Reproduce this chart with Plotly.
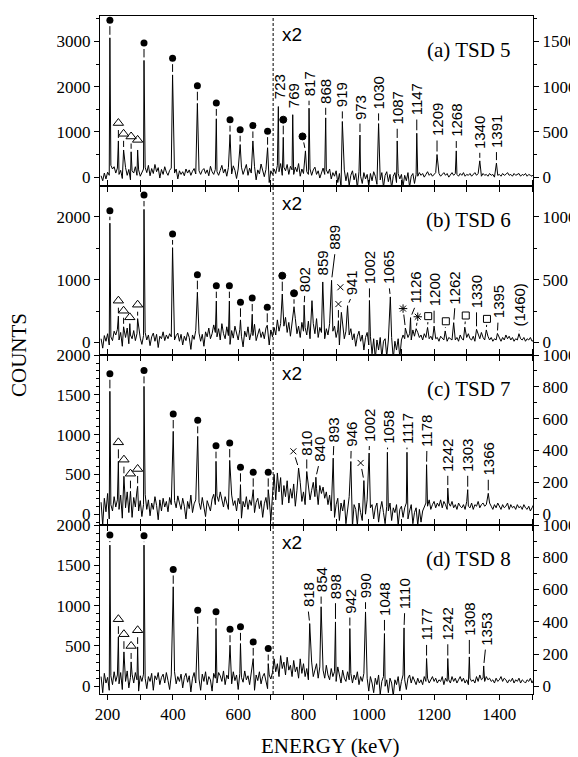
import plotly.graph_objects as go

# ---------------- common grid / axis values ----------------
STEP = 5            # keV per background channel
LO_START = 180      # first channel of the x1 part (left axis units)
HI_START = 710      # first channel of the x2 part (right axis units)
SPLIT_E = 707       # dashed line, start of x2 region
X_RANGE = [176.7, 1503]

panel_names = ["(a) TSD 5", "(b) TSD 6", "(c) TSD 7", "(d) TSD 8"]
left_ranges = [[-196, 3562], [-199, 2492], [-136, 2000.5], [-96, 2000.5]]
left_dtick = [1000, 1000, 500, 500]
left_minor = [500, 500, 100, 100]
right_dtick = [500, 500, 200, 200]
right_minor = [250, 250, 100, 100]

# ---------------- panel (a) TSD 5 ----------------
a_bg_lo = [30, -80, 90, -40, 110, 40, 260, 180, 230, 90,
           200, 60, 150, -30, 120, 210, 40, 170, -60, 140,
           90, 230, 40, 160, 20, 110, 180, 220, 100, 260,
           30, 190, 80, 280, 120, 210, -20, 170, 60, 230,
           110, 40, 150, 200, 150, 90, 180, -40, 140, 60,
           120, 30, 180, 90, 160, 40, 130, 190, 70, 250,
           140, 60, 150, 190, 80, 160, 30, 240, 120, 60,
           170, 120, 40, 150, 260, 90, 180, 20, 210, 130,
           70, 250, 150, -30, 180, 110, 220, 60, 170, 280,
           40, 200, 90, 130, 230, -60, 160, 70, 290, 110,
           10, 170, 80, -120, 140, 60]
a_bg_hi = [90, 40, 130, 60, 150, 20, 110, 70, 140, 30,
           120, 80, 30, 110, 60, 150, 10, 90, 40, 120,
           60, 30, 90, 20, 80, 110, 30, 70, -10, 60,
           100, 30, 80, 40, 90, -20, 50, 10, 70, -60,
           40, -110, 30, 80, -40, 50, -90, 20, 70, -30,
           40, -120, 60, 10, -70, 50, -20, 30, -100, 40,
           -40, 60, 10, -80, 40, -30, 50, -110, 20, 60,
           -50, 30, -120, 10, 50, -60, 40, -20, 30, -100,
           20, -40, 50, -110, 10, 40, -70, 30, 10, 50,
           20, 40, 0, 30, 60, 20, 40, 10, 30, 50,
           20, 40, 10, 30, 50, 20, 40, 0, 30, 50,
           20, 40, 30, 10, 40, 20, 50, 10, 30, 20,
           40, 10, 30, 50, 20, 40, 30, 10, 40, 20,
           30, 10, 40, 20, 30, 0, 40, 20, 30, 10,
           40, 20, 30, 50, 20, 30, 10, 40, 20, 30,
           40, 10, 30, 20, 40, 10, 30, 20, 10, 30,
           20]
a_dot_E = [207, 311.5, 399, 475, 533, 575, 606, 645, 690]
a_dot_pk = [3080, 2580, 2260, 1630, 1290, 940, 720, 800, 650]
a_dot_y = [3470, 2965, 2630, 2020, 1640, 1270, 1047, 1143, 1017]
a_tri_E = [233, 249, 272, 292]
a_tri_pk = [800, 600, 560, 600]
a_tri_y = [1196, 958, 898, 824]
a_lab = ["723", "769", "817", "868", "919", "973", "1030", "1087", "1147", "1209", "1268", "1340", "1391"]
a_lab_pkE = [723, 767, 817, 868, 919, 973, 1030, 1087, 1147, 1209, 1268, 1340, 1391]
a_lab_pk = [780, 690, 762, 655, 615, 465, 592, 400, 485, 250, 290, 180, 155]
a_lab_x = [725, 769, 817, 868, 919, 973, 1030, 1087, 1147, 1209, 1268, 1340, 1391]
a_lab_y = [845, 750, 878, 800, 760, 625, 738, 568, 670, 438, 432, 302, 310]
a_mk_sym = ["circle", "circle"]
a_mk_x = [738, 797]
a_mk_y = [635, 450]
a_mk_pkE = [738, 806]
a_mk_pk = [440, 290]
a_ex_E = []
a_ex_h = []

# ---------------- panel (b) TSD 6 ----------------
b_bg_lo = [60, -90, 110, 20, 140, -40, 90, 30, 180, 120,
           210, 40, 160, -60, 150, 80, 230, -20, 120, 60,
           190, 30, 140, 250, 70, -30, 110, 160, 40, 120,
           -50, 90, 150, 20, 130, -80, 100, 60, 170, 30,
           120, 60, 140, 90, 180, 40, 110, 150, 20, 130,
           -40, 100, 30, 160, 80, -110, 120, 50, 190, 90,
           150, 20, 130, -60, 170, 90, 230, 60, 140, 280,
           160, 90, 220, 40, 300, 140, 60, 250, 110, -30,
           190, 70, 260, 130, 40, 210, 100, -70, 180, 90,
           250, 40, 160, 110, 290, 30, 150, 220, 80, 170,
           60, 230, 120, -40, 200, 90]
b_bg_hi = [120, 60, 180, 90, 150, 40, 130, 200, 80, 160,
           50, 140, 100, 190, 70, 130, 40, 160, 90, 120,
           60, 170, 30, 110, 150, 70, 190, 40, 120, 80,
           140, 30, 110, 60, 150, 20, 90, 130, 40, 100,
           -20, 80, 130, 30, 90, -40, 60, 110, 20, 70,
           -30, 50, 90, 10, 60, -60, 40, 80, -20, 50,
           -90, 30, -130, 20, -60, 40, -120, 10, 30, -110,
           20, -80, 40, -130, 10, -60, 30, -120, 20, 60,
           30, 90, 40, 70, 20, 100, 50, 30, 80, 40,
           60, 20, 70, 40, 90, 30, 50, 20, 60, 30,
           40, 10, 50, 30, 20, 60, 10, 40, 30, 20,
           50, 20, 40, 10, 60, 30, 20, 50, 40, 70,
           30, 20, 50, 10, 40, 60, 30, 80, 40, 20,
           30, 50, 20, 40, 10, 30, 20, 40, 30, 10,
           40, 20, 60, 30, 50, 20, 40, 10, 30, 20,
           50, 30, 20, 40, 10, 30, 20, 40, 10, 20,
           30]
b_dot_E = [207, 311.5, 399, 475, 533, 573, 607, 643, 689]
b_dot_pk = [1900, 2120, 1510, 800, 660, 660, 360, 450, 275]
b_dot_y = [2099, 2349, 1728, 1080, 905, 905, 640, 709, 560]
b_tri_E = [233, 249, 268, 292]
b_tri_pk = [420, 250, 300, 380]
b_tri_y = [666, 506, 401, 602]
b_lab = ["802", "859", "889", "941", "1002", "1065", "1126", "1200", "1262", "1330", "1395", "(1460)"]
b_lab_pkE = [802, 859, 886, 935, 1002, 1066, 1128, 1200, 1260, 1330, 1394, 1460]
b_lab_pk = [297, 482, 495, 293, 335, 363, 198, 130, 158, 105, 72, 70]
b_lab_x = [804, 859, 897, 948, 1002, 1062, 1144, 1200, 1264, 1330, 1396, 1462]
b_lab_y = [395, 528, 727, 370, 455, 455, 300, 277, 297, 264, 182, 120]
b_mk_sym = ["circle", "circle", "x-thin-open", "x-thin-open", "asterisk-open", "asterisk-open",
            "square-open", "square-open", "square-open", "square-open"]
b_mk_x = [735, 771, 907, 913, 1105, 1150, 1182, 1236, 1297, 1362]
b_mk_y = [532, 392, 306, 440, 270, 205, 210, 169, 215, 188]
b_mk_pkE = [735, 771, 907, 916, 1112, 1145, 1180, 1234, 1294, 1360]
b_mk_pk = [386, 285, 174, None, 115, 110, 120, 92, 122, 100]
b_ex_E = [826, 916]
b_ex_h = [333, 240]

# ---------------- panel (c) TSD 7 ----------------
c_bg_lo = [150, -140, 200, 30, 260, -60, 120, 40, 220, 90,
           180, 60, 240, -50, 190, 80, 280, 20, 150, -40,
           210, 90, 300, 40, 170, -30, 120, 250, 60, 180,
           -20, 140, 60, 220, 110, -70, 180, 40, 200, 90,
           160, 30, 210, 120, -40, 170, 80, 230, 140, 60,
           200, 100, -60, 160, 70, 240, 20, 130, 180, -20,
           150, 60, 210, 90, -30, 170, 110, 40, 190, 250,
           120, 230, 160, 280, 180, 90, 220, 140, 60, 190,
           240, 110, 170, 40, 200, 130, -50, 160, 90, 220,
           60, 180, 110, 250, 20, 150, 200, 70, 170, -40,
           130, 210, 60, 190, -80, 230]
c_bg_hi = [250, 90, 200, 140, 230, 60, 180, 110, 210, 70,
           160, 100, 190, 50, 150, 120, 200, 80, 140, 60,
           120, 170, 90, 150, 200, 110, 160, 60, 180, 130,
           170, 100, 140, 60, 120, 20, 80, -20, 60, 100,
           -40, 70, 20, 90, -60, 50, 110, 10, -80, 60,
           30, -70, 70, 10, -40, 50, 0, 90, -80, 40,
           60, -30, 40, 70, -50, 30, 80, 10, -60, 50,
           20, 70, -40, 40, 10, 60, -70, 30, 50, -20,
           40, 70, -30, 20, 60, -60, 10, 40, -70, 30,
           -50, 20, 40, 70, 50, 90, 30, 60, 80, 40,
           70, 50, 90, 40, 80, 60, 30, 70, 50, 80,
           40, 60, 30, 70, 50, 40, 60, 30, 80, 50,
           40, 70, 30, 60, 50, 80, 40, 60, 70, 50,
           60, 40, 70, 50, 30, 60, 40, 70, 50, 30,
           60, 40, 50, 70, 30, 60, 40, 50, 30, 60,
           40, 50, 30, 60, 40, 30, 50, 20, 40, 60,
           30]
c_dot_E = [207, 311.5, 401, 476, 532, 574, 607, 646, 692]
c_dot_pk = [1544, 1606, 1041, 978, 664, 676, 371, 308, 308]
c_dot_y = [1765, 1807, 1259, 1179, 861, 894, 589, 526, 526]
c_tri_E = [233, 250, 270, 292]
c_tri_pk = [664, 476, 287, 350]
c_tri_y = [903, 685, 509, 568]
c_lab = ["810", "840", "893", "946", "1002", "1058", "1117", "1178", "1242", "1303", "1366"]
c_lab_pkE = [810, 838, 891, 945, 1001, 1057, 1117, 1177, 1242, 1303, 1366]
c_lab_pk = [268, 232, 352, 331, 384, 389, 389, 311, 164, 154, 131]
c_lab_x = [810, 848, 893, 946, 1002, 1058, 1117, 1178, 1242, 1303, 1366]
c_lab_y = [363, 321, 447, 416, 447, 437, 437, 416, 260, 260, 235]
c_mk_sym = ["x-thin-open", "x-thin-open"]
c_mk_x = [769, 975]
c_mk_y = [395, 322]
c_mk_pkE = [785, 985]
c_mk_pk = [290, 211]
c_ex_E = [720]
c_ex_h = [259]

# ---------------- panel (d) TSD 8 ----------------
d_bg_lo = [120, -80, 160, 40, 110, -50, 130, 20, 180, 60,
           140, 30, 170, -40, 120, 60, 190, -20, 110, 150,
           40, 170, 80, -60, 130, 60, 150, 100, -30, 120,
           60, 160, -50, 130, 80, 170, 20, 110, 150, 40,
           170, 70, -40, 140, 100, 180, 30, 120, 60, 150,
           -20, 110, 160, 50, 130, -70, 100, 170, 40, 140,
           90, -50, 150, 60, 180, 20, 120, 80, -60, 160,
           100, 40, 170, 130, 60, 190, 20, 140, 90, 150,
           30, 180, 70, 140, -40, 160, 110, 50, 190, 80,
           130, 20, 160, 90, -50, 140, 70, 180, 30, 120,
           160, 60, -30, 140, 90, 170]
d_bg_hi = [170, 90, 140, 60, 190, 110, 150, 70, 180, 100,
           130, 60, 160, 90, 120, 50, 170, 80, 140, 60,
           110, 40, 90, 150, 60, 100, 140, 50, 120, 80,
           100, 50, 130, 70, 40, 110, 60, 90, 30, 120,
           70, 20, 100, 50, 30, 90, 40, 80, 20, 70,
           40, 90, 10, 60, 30, 80, 20, 50, -30, 60,
           20, -40, 50, 10, 70, -50, 30, 60, 0, 40,
           -40, 50, 20, -60, 40, 10, 60, -30, 30, 70,
           40, -20, 50, 70, 20, 60, 30, 10, 50, 20,
           40, 10, 60, 30, 50, 20, 40, 60, 30, 50,
           20, 40, 30, 60, 10, 50, 30, 40, 20, 60,
           30, 50, 20, 40, 60, 30, 50, 20, 40, 10,
           50, 30, 40, 20, 60, 30, 70, 40, 50, 30,
           60, 40, 50, 30, 40, 20, 50, 30, 40, 60,
           30, 50, 40, 20, 40, 30, 50, 20, 40, 30,
           50, 20, 40, 30, 20, 40, 30, 50, 20, 40,
           30]
d_dot_E = [207, 311.5, 401, 476, 532, 575, 607, 646, 692]
d_dot_pk = [1751, 1751, 1234, 737, 716, 509, 530, 343, 281]
d_dot_y = [1876, 1867, 1449, 944, 923, 708, 737, 550, 467]
d_tri_E = [233, 250, 272, 292]
d_tri_pk = [612, 426, 302, 488]
d_tri_y = [832, 646, 500, 695]
d_lab = ["818", "854", "898", "942", "990", "1048", "1110", "1177", "1242", "1308", "1353"]
d_lab_pkE = [819, 854, 898, 942, 990, 1048, 1108, 1177, 1242, 1308, 1352]
d_lab_pk = [389, 493, 399, 358, 461, 327, 362, 172, 172, 182, 126]
d_lab_x = [814, 854, 898, 942, 990, 1048, 1110, 1177, 1242, 1308, 1358]
d_lab_y = [482, 575, 534, 445, 540, 430, 472, 275, 279, 306, 246]
d_mk_sym = []
d_mk_x = []
d_mk_y = []
d_mk_pkE = []
d_mk_pk = []
d_ex_E = []
d_ex_h = []

panels = [
    dict(bg_lo=a_bg_lo, bg_hi=a_bg_hi, dot_E=a_dot_E, dot_pk=a_dot_pk, dot_y=a_dot_y,
         tri_E=a_tri_E, tri_pk=a_tri_pk, tri_y=a_tri_y, lab=a_lab, lab_pkE=a_lab_pkE,
         lab_pk=a_lab_pk, lab_x=a_lab_x, lab_y=a_lab_y, mk_sym=a_mk_sym, mk_x=a_mk_x,
         mk_y=a_mk_y, mk_pkE=a_mk_pkE, mk_pk=a_mk_pk, ex_E=a_ex_E, ex_h=a_ex_h),
    dict(bg_lo=b_bg_lo, bg_hi=b_bg_hi, dot_E=b_dot_E, dot_pk=b_dot_pk, dot_y=b_dot_y,
         tri_E=b_tri_E, tri_pk=b_tri_pk, tri_y=b_tri_y, lab=b_lab, lab_pkE=b_lab_pkE,
         lab_pk=b_lab_pk, lab_x=b_lab_x, lab_y=b_lab_y, mk_sym=b_mk_sym, mk_x=b_mk_x,
         mk_y=b_mk_y, mk_pkE=b_mk_pkE, mk_pk=b_mk_pk, ex_E=b_ex_E, ex_h=b_ex_h),
    dict(bg_lo=c_bg_lo, bg_hi=c_bg_hi, dot_E=c_dot_E, dot_pk=c_dot_pk, dot_y=c_dot_y,
         tri_E=c_tri_E, tri_pk=c_tri_pk, tri_y=c_tri_y, lab=c_lab, lab_pkE=c_lab_pkE,
         lab_pk=c_lab_pk, lab_x=c_lab_x, lab_y=c_lab_y, mk_sym=c_mk_sym, mk_x=c_mk_x,
         mk_y=c_mk_y, mk_pkE=c_mk_pkE, mk_pk=c_mk_pk, ex_E=c_ex_E, ex_h=c_ex_h),
    dict(bg_lo=d_bg_lo, bg_hi=d_bg_hi, dot_E=d_dot_E, dot_pk=d_dot_pk, dot_y=d_dot_y,
         tri_E=d_tri_E, tri_pk=d_tri_pk, tri_y=d_tri_y, lab=d_lab, lab_pkE=d_lab_pkE,
         lab_pk=d_lab_pk, lab_x=d_lab_x, lab_y=d_lab_y, mk_sym=d_mk_sym, mk_x=d_mk_x,
         mk_y=d_mk_y, mk_pkE=d_mk_pkE, mk_pk=d_mk_pk, ex_E=d_ex_E, ex_h=d_ex_h),
]

# ---------------- layout geometry ----------------
# The page body has an 8 px margin: the figure's margins are shifted so that
# the frame lands on the reference page pixels; the figure itself is allowed
# to run past the window edge (nothing is drawn there).
BODY = 8
W, H = 578, 757
FRAME_L, FRAME_R = 100, 533           # page pixels
BOUNDS = [16, 186, 355, 525, 694]     # page pixels of the panel edges
ML = FRAME_L - BODY
MR = W - (FRAME_R - BODY)
MT = BOUNDS[0] - BODY
MB = H - (BOUNDS[4] - BODY)
PW = W - ML - MR
PH = H - MT - MB
SANS = "Liberation Sans, Arial, Helvetica, sans-serif"
SERIF = "Liberation Serif, Times New Roman, Times, serif"
TICKFONT = dict(family=SERIF, size=17, color="black")
NUMFONT = dict(family=SANS, size=15, color="black")


def merge(start, bg, peaks):
    pts = [(start + STEP * i, v) for i, v in enumerate(bg)]
    pk_x = [p[0] for p in peaks]
    pts = [p for p in pts if all(abs(p[0] - e) > 1.0 for e in pk_x)]
    pts += peaks
    pts.sort(key=lambda p: p[0])
    return [p[0] for p in pts], [p[1] for p in pts]


def leader(xs, ys, x0, y0, x1, y1, g0, g1):
    dy = y1 - y0
    if dy <= g0 + g1:
        return
    t0 = g0 / dy
    t1 = 1 - g1 / dy
    xs += [x0 + t0 * (x1 - x0), x0 + t1 * (x1 - x0), None]
    ys += [y0 + g0, y1 - g1, None]


fig = go.Figure()
layout = dict(width=W, height=H, margin=dict(l=ML, r=MR, t=MT, b=MB, autoexpand=False),
              paper_bgcolor="white", plot_bgcolor="white", showlegend=False)
annotations = []
shapes = []
SPEC_LINE = dict(color="black", width=1)

for i, p in enumerate(panels):
    xref = "x" if i == 0 else f"x{i + 1}"
    ylref = "y" if i == 0 else f"y{2 * i + 1}"
    yrref = f"y{2 * i + 2}"
    top_px, bot_px = BOUNDS[i], BOUNDS[i + 1]
    dom = [(BOUNDS[4] - bot_px) / PH, (BOUNDS[4] - top_px) / PH]
    lr = left_ranges[i]
    rr = [lr[0] / 2, lr[1] / 2]
    upl = (lr[1] - lr[0]) / (bot_px - top_px)   # left units per px
    upr = upl / 2

    xa = "xaxis" if i == 0 else f"xaxis{i + 1}"
    layout[xa] = dict(domain=[0, 1], anchor=ylref, range=X_RANGE, tickmode="linear",
                      tick0=0, dtick=200, ticks="outside", ticklen=5, tickcolor="black",
                      minor=dict(tick0=0, dtick=100, ticks="outside", ticklen=5, tickcolor="black"),
                      showticklabels=(i == 3), tickfont=TICKFONT, showline=True,
                      linecolor="black", linewidth=1, mirror=(True if i == 0 else "ticks"),
                      showgrid=False, zeroline=False)
    if i > 0:
        layout[xa]["matches"] = "x"
    yl = "yaxis" if i == 0 else f"yaxis{2 * i + 1}"
    layout[yl] = dict(domain=dom, anchor=xref, range=lr, tickmode="linear", tick0=0,
                      dtick=left_dtick[i], ticks="outside", ticklen=5, tickcolor="black",
                      minor=dict(tick0=0, dtick=left_minor[i], ticks="outside", ticklen=3,
                                 tickcolor="black"),
                      tickfont=TICKFONT, showline=True, linecolor="black", linewidth=1,
                      showgrid=False, zeroline=False)
    yr = f"yaxis{2 * i + 2}"
    layout[yr] = dict(domain=dom, anchor=xref, overlaying=ylref, side="right", range=rr,
                      tickmode="linear", tick0=0, dtick=right_dtick[i], ticks="outside",
                      ticklen=5, tickcolor="black",
                      minor=dict(tick0=0, dtick=right_minor[i], ticks="outside", ticklen=3,
                                 tickcolor="black"),
                      tickfont=TICKFONT, showline=True, linecolor="black", linewidth=1,
                      showgrid=False, zeroline=False)

    # spectrum, x1 part
    lo_peaks = list(zip(p["dot_E"], p["dot_pk"])) + list(zip(p["tri_E"], p["tri_pk"]))
    lx, ly = merge(LO_START, p["bg_lo"], lo_peaks)
    lx.append(HI_START)
    ly.append(2 * p["bg_hi"][0])
    fig.add_trace(go.Scatter(x=lx, y=ly, mode="lines", xaxis=xref, yaxis=ylref,
                             line=SPEC_LINE, hoverinfo="skip"))
    # spectrum, x2 part
    hi_peaks = list(zip(p["lab_pkE"], p["lab_pk"]))
    hi_peaks += [(e, h) for e, h in zip(p["mk_pkE"], p["mk_pk"]) if h is not None]
    hi_peaks += list(zip(p["ex_E"], p["ex_h"]))
    hx, hy = merge(HI_START, p["bg_hi"], hi_peaks)
    fig.add_trace(go.Scatter(x=hx, y=hy, mode="lines", xaxis=xref, yaxis=yrref,
                             line=SPEC_LINE, hoverinfo="skip"))

    # leaders in left units
    lxs, lys = [], []
    for e, pk, yy in zip(p["dot_E"], p["dot_pk"], p["dot_y"]):
        leader(lxs, lys, e, pk, e, yy, 3 * upl, 6 * upl)
    for e, pk, yy in zip(p["tri_E"], p["tri_pk"], p["tri_y"]):
        leader(lxs, lys, e, pk, e, yy, 3 * upl, 7 * upl)
    fig.add_trace(go.Scatter(x=lxs, y=lys, mode="lines", xaxis=xref, yaxis=ylref,
                             line=dict(color="black", width=1), hoverinfo="skip"))
    # leaders in right units
    rxs, rys = [], []
    for e, pk, xx, yy in zip(p["lab_pkE"], p["lab_pk"], p["lab_x"], p["lab_y"]):
        leader(rxs, rys, e, pk, xx, yy, 3 * upr, 3 * upr)
    for e, pk, xx, yy in zip(p["mk_pkE"], p["mk_pk"], p["mk_x"], p["mk_y"]):
        if pk is not None:
            leader(rxs, rys, e, pk, xx, yy, 3 * upr, 6 * upr)
    fig.add_trace(go.Scatter(x=rxs, y=rys, mode="lines", xaxis=xref, yaxis=yrref,
                             line=dict(color="black", width=1), hoverinfo="skip"))

    # markers
    fig.add_trace(go.Scatter(x=p["dot_E"], y=p["dot_y"], mode="markers", xaxis=xref, yaxis=ylref,
                             marker=dict(symbol="circle", size=7, color="black"), hoverinfo="skip"))
    fig.add_trace(go.Scatter(x=p["tri_E"], y=p["tri_y"], mode="markers", xaxis=xref, yaxis=ylref,
                             marker=dict(symbol="triangle-up-open", size=9, color="black",
                                         line=dict(width=1, color="black")), hoverinfo="skip"))
    for sym in sorted(set(p["mk_sym"])):
        mx = [x for s, x in zip(p["mk_sym"], p["mk_x"]) if s == sym]
        my = [y for s, y in zip(p["mk_sym"], p["mk_y"]) if s == sym]
        size = {"circle": 7, "x-thin-open": 6, "asterisk-open": 7, "square-open": 7}[sym]
        fig.add_trace(go.Scatter(x=mx, y=my, mode="markers", xaxis=xref, yaxis=yrref,
                                 marker=dict(symbol=sym, size=size, color="black",
                                             line=dict(width=1, color="black")),
                                 hoverinfo="skip"))

    # rotated energy labels
    for t, xx, yy in zip(p["lab"], p["lab_x"], p["lab_y"]):
        annotations.append(dict(text=t, x=xx, y=yy, xref=xref, yref=yrref, textangle=-90,
                                xanchor="center", yanchor="bottom", showarrow=False,
                                font=NUMFONT, borderpad=0))
    # x2 mark, dashed split line, panel name
    annotations.append(dict(text="x2", x=728, y=0.894, xref=xref, yref=f"{ylref} domain",
                            xanchor="left", yanchor="middle", showarrow=False,
                            font=dict(family=SANS, size=19, color="black")))
    annotations.append(dict(text=panel_names[i], x=(513 - FRAME_L) / (FRAME_R - FRAME_L),
                            y=0.80, xref=f"{xref} domain",
                            yref=f"{ylref} domain", xanchor="right", yanchor="middle",
                            showarrow=False, font=dict(family=SERIF, size=21, color="black")))
    shapes.append(dict(type="line", x0=SPLIT_E, x1=SPLIT_E, y0=0, y1=1, xref=xref,
                       yref=f"{ylref} domain", line=dict(color="black", width=1, dash="3px,2px")))

annotations.append(dict(text="COUNTS", x=(19 - FRAME_L) / PW, y=0.5, xref="paper",
                        yref="paper", textangle=-90, xanchor="center", yanchor="middle",
                        showarrow=False, font=dict(family=SERIF, size=21, color="black")))
annotations.append(dict(text="ENERGY (keV)", x=(330 - FRAME_L) / PW,
                        y=(BOUNDS[4] - 746) / PH, xref="paper", yref="paper",
                        xanchor="center", yanchor="middle", showarrow=False,
                        font=dict(family=SERIF, size=21, color="black")))
layout["annotations"] = annotations
layout["shapes"] = shapes
fig.update_layout(**layout)
fig.write_html("out.html")
